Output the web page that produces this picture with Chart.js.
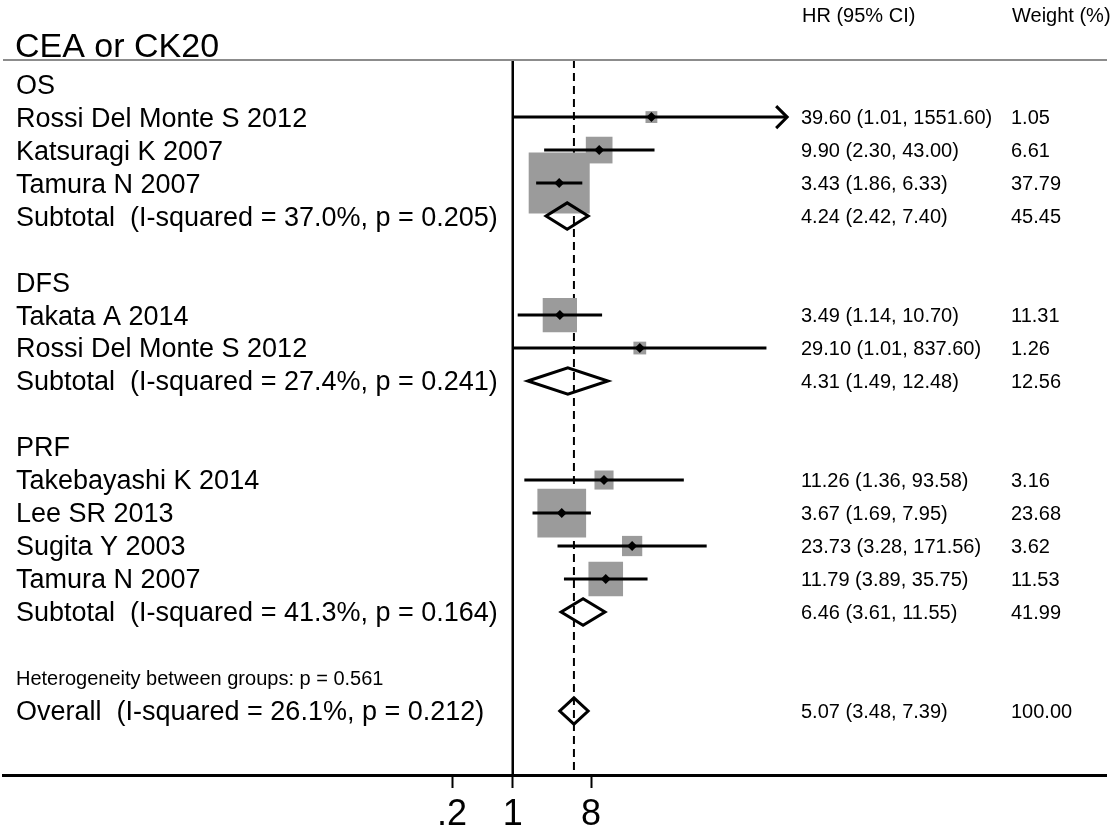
<!DOCTYPE html>
<html>
<head>
<meta charset="utf-8">
<title>CEA or CK20 forest plot</title>
<script src="https://cdn.jsdelivr.net/npm/chart.js@4.4.0/dist/chart.umd.min.js"></script>
<style>
  html, body { margin: 0; padding: 0; background: #fff; }
  #wrap { width: 1113px; height: 832px; }
</style>
</head>
<body>
<div id="wrap"><canvas id="forest"></canvas></div>
<script>
// Row labels, top to bottom (index = row on the y scale)
const rowLabels = [
  'OS',
  'Rossi Del Monte S 2012',
  'Katsuragi K 2007',
  'Tamura N 2007',
  'Subtotal  (I-squared = 37.0%, p = 0.205)',
  '',
  'DFS',
  'Takata A 2014',
  'Rossi Del Monte S 2012',
  'Subtotal  (I-squared = 27.4%, p = 0.241)',
  '',
  'PRF',
  'Takebayashi K 2014',
  'Lee SR 2013',
  'Sugita Y 2003',
  'Tamura N 2007',
  'Subtotal  (I-squared = 41.3%, p = 0.164)',
  '',
  'Heterogeneity between groups: p = 0.561',
  'Overall  (I-squared = 26.1%, p = 0.212)'
];
const smallRows = [18];

// Single studies
const studyRows   = [1, 2, 3, 7, 8, 12, 13, 14, 15];
const studyHR     = [39.60, 9.90, 3.43, 3.49, 29.10, 11.26, 3.67, 23.73, 11.79];
const studyLo     = [1.01, 2.30, 1.86, 1.14, 1.01, 1.36, 1.69, 3.28, 3.89];
const studyHi     = [1551.60, 43.00, 6.33, 10.70, 837.60, 93.58, 7.95, 171.56, 35.75];
const studyWeight = [1.05, 6.61, 37.79, 11.31, 1.26, 3.16, 23.68, 3.62, 11.53];

// Pooled estimates (subtotals and overall)
const poolRows   = [4, 9, 16, 19];
const poolHR     = [4.24, 4.31, 6.46, 5.07];
const poolLo     = [2.42, 1.49, 3.61, 3.48];
const poolHi     = [7.40, 12.48, 11.55, 7.39];
const poolWeight = [45.45, 12.56, 41.99, 100.00];
const overallHR = 5.07;

// x axis
const tickValues = [0.2, 1, 8];
const tickLabels = ['.2', '1', '8'];

// plot settings
const ciLimit = 1450;          // CIs past this are cut and get an arrow
const yTop = -0.73, yBottom = 20.94;
const xMin = 1.34e-6, xMax = 6.84e6;
const FONT = '"Liberation Sans", Arial, Helvetica, sans-serif';
const BOX_GREY = '#9b9b9b';

function fmt(v) { return v.toFixed(2); }

const datasets = [];

// null line at HR = 1
datasets.push({
  type: 'line',
  data: [{x: 1, y: yTop}, {x: 1, y: yBottom}],
  borderColor: '#000', borderWidth: 2.5, pointRadius: 0, order: 20
});
// dashed line at the overall estimate
datasets.push({
  type: 'line',
  data: [{x: overallHR, y: yTop}, {x: overallHR, y: yBottom}],
  borderColor: '#000', borderWidth: 2, borderDash: [8, 5], pointRadius: 0, order: 19
});
// weight boxes
datasets.push({
  type: 'scatter',
  data: studyHR.map((hr, i) => ({x: hr, y: studyRows[i]})),
  pointStyle: 'rect',
  pointRadius: ctx => (9.6 * Math.sqrt(studyWeight[ctx.dataIndex]) + 2) / Math.SQRT2,
  backgroundColor: BOX_GREY, borderColor: BOX_GREY, borderWidth: 0,
  order: 10
});
// confidence intervals
studyHR.forEach((hr, i) => {
  datasets.push({
    type: 'line',
    data: [{x: studyLo[i], y: studyRows[i]}, {x: Math.min(studyHi[i], ciLimit), y: studyRows[i]}],
    borderColor: '#000', borderWidth: 3, pointRadius: 0, order: 5
  });
});
// pooled diamonds
poolHR.forEach((hr, i) => {
  const r = poolRows[i];
  datasets.push({
    type: 'line',
    data: [
      {x: poolLo[i], y: r}, {x: hr, y: r - 0.4}, {x: poolHi[i], y: r},
      {x: hr, y: r + 0.4}, {x: poolLo[i], y: r}, {x: hr, y: r - 0.4}
    ],
    borderColor: '#000', borderWidth: 3, borderJoinStyle: 'miter',
    pointRadius: 0, fill: false, order: 4
  });
});
// point estimates
datasets.push({
  type: 'scatter',
  data: studyHR.map((hr, i) => ({x: hr, y: studyRows[i]})),
  pointStyle: 'rectRot', pointRadius: 5,
  backgroundColor: '#000', borderColor: '#000', borderWidth: 0,
  order: 1
});

// text columns, header, top rule and arrows
const forestText = {
  id: 'forestText',
  afterDraw(chart) {
    const ctx = chart.ctx;
    const xs = chart.scales.x, ys = chart.scales.y;
    const area = chart.chartArea;
    ctx.save();
    ctx.fillStyle = '#000';
    ctx.textAlign = 'left';
    ctx.textBaseline = 'alphabetic';

    // grey rule under the title
    ctx.strokeStyle = '#8c8c8c';
    ctx.lineWidth = 2;
    ctx.beginPath();
    ctx.moveTo(3, area.top);
    ctx.lineTo(1107, area.top);
    ctx.stroke();

    ctx.font = '34px ' + FONT;
    ctx.fillText('CEA or CK20', 15, 57);

    ctx.font = '20px ' + FONT;
    ctx.fillText('HR (95% CI)', 802, 22);
    ctx.fillText('Weight (%)', 1012, 22);

    rowLabels.forEach((label, i) => {
      if (!label) return;
      const y = ys.getPixelForValue(i);
      const size = smallRows.includes(i) ? 20 : 27;
      ctx.font = size + 'px ' + FONT;
      ctx.fillText(label, 16, y + 0.35 * size);
    });

    ctx.font = '20px ' + FONT;
    const drawStats = (rows, hr, lo, hi, w) => {
      rows.forEach((r, i) => {
        const y = ys.getPixelForValue(r) + 7;
        ctx.fillText(fmt(hr[i]) + ' (' + fmt(lo[i]) + ', ' + fmt(hi[i]) + ')', 801, y);
        ctx.fillText(fmt(w[i]), 1011, y);
      });
    };
    drawStats(studyRows, studyHR, studyLo, studyHi, studyWeight);
    drawStats(poolRows, poolHR, poolLo, poolHi, poolWeight);

    // arrows for cut intervals
    ctx.strokeStyle = '#000';
    ctx.lineWidth = 3;
    studyHi.forEach((hi, i) => {
      if (hi <= ciLimit) return;
      const tx = xs.getPixelForValue(ciLimit);
      const ty = ys.getPixelForValue(studyRows[i]);
      ctx.beginPath();
      ctx.moveTo(tx - 11, ty - 11);
      ctx.lineTo(tx, ty);
      ctx.lineTo(tx - 11, ty + 11);
      ctx.stroke();
    });
    ctx.restore();
  }
};

new Chart(document.getElementById('forest'), {
  data: { datasets: datasets },
  options: {
    responsive: true,
    maintainAspectRatio: false,
    animation: false,
    events: [],
    layout: { autoPadding: false, padding: { left: 3, right: 7, top: 60, bottom: 0 } },
    plugins: { legend: { display: false }, tooltip: { enabled: false } },
    scales: {
      x: {
        type: 'logarithmic',
        position: 'bottom',
        min: xMin,
        max: xMax,
        bounds: 'data',
        afterBuildTicks: scale => {
          scale.ticks = tickValues.map(v => ({ value: v }));
        },
        afterFit: scale => {
          scale.paddingLeft = 0;
          scale.paddingRight = 0;
          scale.height = 57;
        },
        border: { display: true, color: '#000', width: 3 },
        grid: {
          display: true, drawOnChartArea: false, drawTicks: true,
          tickLength: 13, tickWidth: 2, tickColor: '#000'
        },
        ticks: {
          autoSkip: false, maxRotation: 0, padding: 9, color: '#000',
          font: { family: FONT, size: 36, lineHeight: 1 },
          callback: v => tickLabels[tickValues.indexOf(v)]
        }
      },
      y: {
        type: 'linear',
        reverse: true,
        min: yTop,
        max: yBottom,
        display: false
      }
    }
  },
  plugins: [forestText]
});
</script>
</body>
</html>
